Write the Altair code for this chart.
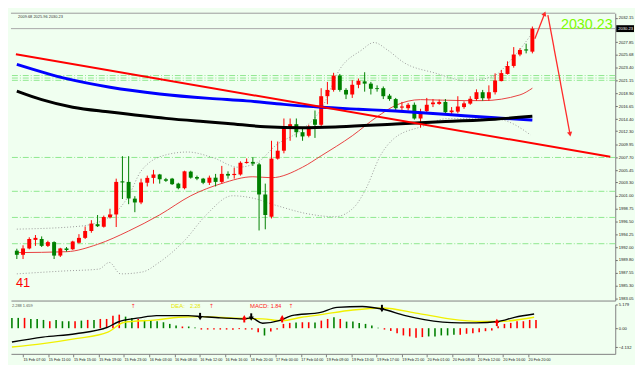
import altair as alt
import pandas as pd

# ---------------- data ----------------
opens = [1991.36,1990.64,1991.75,1993.25,1993.4,1992.2,1992.86,1990.5,1991.75,1991.6,
 1992.75,1993.6,1994.8,1996.0,1995.55,1997.2,1997.7,2003.5,2003.4,2000.47,
 1999.8,2003.25,2004.1,2004.7,2003.86,2003.97,2003.1,2002.3,2005.2,2004.25,
 2003.97,2003.25,2004.14,2003.4,2004.8,2004.6,2004.7,2006.7,2006.9,2006.47,
 2001.2,1997.3,2007.47,2008.86,2012.8,2013.5,2012.1,2011.47,2014.36,2013.4,
 2018.4,2019.5,2022.0,2019.5,2018.7,2020.4,2021.0,2020.6,2019.8,2019.8,
 2018.5,2017.9,2016.4,2016.3,2016.9,2014.5,2015.8,2017.0,2017.05,2017.4,
 2015.6,2015.7,2016.5,2017.1,2017.9,2019.1,2018.0,2019.1,2021.05,2022.3,
 2023.7,2025.7,2026.6,2026.2]
highs = [1991.7,1992.3,1993.7,1994.1,1993.86,1993.1,1993.0,1991.86,1992.0,1993.1,
 1994.25,1995.6,1996.7,1997.6,1997.5,1998.7,2003.97,2007.9,2007.9,2000.9,
 2003.97,2004.5,2005.5,2004.8,2004.1,2004.1,2003.25,2005.36,2005.36,2004.5,
 2004.1,2004.5,2004.8,2006.2,2005.25,2005.9,2007.0,2007.5,2007.7,2006.75,
 2003.1,2010.6,2010.47,2014.5,2014.5,2014.5,2012.86,2013.4,2015.9,2019.8,
 2020.9,2022.5,2022.3,2019.8,2021.2,2021.5,2022.6,2020.9,2020.3,2020.1,
 2018.8,2018.1,2017.4,2017.2,2017.3,2016.2,2018.1,2017.9,2017.8,2017.9,
 2016.5,2018.4,2017.5,2018.4,2019.6,2019.5,2020.3,2022.4,2023.0,2024.5,
 2027.0,2026.8,2027.6,2030.6]
lows = [1989.9,1989.9,1991.6,1992.2,1992.0,1992.0,1989.9,1990.25,1991.2,1991.5,
 1992.6,1993.4,1994.5,1995.5,1995.4,1997.0,1995.5,2000.4,1999.5,1998.1,
 1999.5,2002.6,2003.1,2003.1,2003.4,2002.86,2002.1,2002.1,2003.97,2003.7,
 2003.0,2002.86,2002.6,2003.1,2003.97,2003.97,2004.5,2006.6,2006.2,1994.9,
 1995.1,1997.0,2007.3,2008.4,2010.6,2011.2,2010.6,2011.2,2011.1,2013.1,
 2017.0,2019.2,2019.2,2017.9,2018.1,2019.8,2019.2,2018.7,2019.2,2017.9,
 2017.6,2015.9,2016.0,2015.9,2014.3,2012.9,2015.4,2016.5,2016.9,2015.4,
 2015.1,2015.4,2016.2,2016.9,2017.6,2017.6,2017.6,2018.7,2021.0,2022.2,
 2023.4,2025.4,2025.9,2025.9]
closes = [1990.64,1991.75,1993.4,1993.6,1992.2,1992.86,1990.5,1991.75,1991.47,1992.97,
 1993.6,1994.8,1996.1,1995.64,1997.25,1997.7,2003.4,2003.3,2000.5,1999.8,
 2003.3,2004.1,2004.7,2003.86,2003.6,2003.0,2002.3,2005.25,2004.14,2003.97,
 2003.25,2004.14,2003.4,2004.8,2004.5,2004.8,2006.75,2006.9,2006.6,2001.2,
 1997.6,2007.47,2008.86,2012.8,2013.5,2012.1,2011.36,2013.1,2013.4,2018.4,
 2019.5,2022.0,2019.5,2018.7,2020.4,2021.1,2020.6,2019.7,2019.65,2018.4,
 2017.9,2016.3,2016.6,2016.9,2014.5,2015.6,2016.9,2017.3,2017.4,2015.6,
 2015.9,2016.6,2017.15,2017.95,2019.1,2018.05,2019.1,2021.15,2022.45,2023.7,
 2025.7,2026.5,2026.4,2030.23]

blue_k = [0, 8, 15, 23, 31, 37, 43, 49, 55, 61, 67, 72, 78, 83]
blue_v = [2023.97, 2021.47, 2019.97, 2018.80, 2018.02, 2017.58, 2016.97, 2016.47,
          2016.13, 2015.80, 2015.38, 2014.97, 2014.55, 2014.22]
black_k = [0, 4, 9, 15, 24, 30, 34, 40, 46, 52, 61, 69, 77, 83]
black_v = [2019.3, 2017.8, 2016.47, 2015.63, 2014.52, 2013.97, 2013.63, 2013.05,
           2012.88, 2013.05, 2013.55, 2013.97, 2014.38, 2014.88]
mid_k = [0, 8, 13, 18, 23, 28, 33, 38, 41, 46, 49, 54, 58, 61, 65, 72, 75, 81, 83]
mid_v = [1991.02, 1991.18, 1992.47, 1994.8, 1997.63, 2000.97, 2003.13, 2004.3, 2004.13,
         2005.97, 2007.97, 2011.47, 2014.8, 2016.8, 2017.8, 2017.63, 2017.63, 2018.63, 2019.8]
upper_k = [0, 10, 15, 18, 20, 24, 27.5, 31.6, 35.6, 38.7, 41.7, 46, 49, 52, 55.5, 57.5,
           59.7, 62.3, 67.3, 72.4, 76.5, 80, 83]
upper_v = [1995.13, 1995.63, 1997.3, 2000.97, 2005.3, 2008.13, 2008.63, 2007.63, 2005.97,
           2006.8, 2009.8, 2012.63, 2016.13, 2023.13, 2026.47, 2027.8, 2026.47, 2024.3,
           2022.47, 2021.13, 2021.8, 2025.3, 2029.47]
lower_k = [0, 7.5, 13.2, 14.9, 16.7, 20.2, 22.9, 27, 30.5, 34.7, 37.7, 41.7, 46.9, 51.2,
           54.3, 56.1, 58.6, 60.7, 65.3, 69.3, 77.6, 82.7]
lower_v = [1987.3, 1987.8, 1988.13, 1989.3, 1987.3, 1987.63, 1989.3, 1993.13, 1997.63,
           2000.97, 2000.63, 1999.3, 1997.8, 1997.3, 1998.97, 2001.97, 2008.13, 2010.97,
           2013.13, 2014.47, 2014.3, 2011.63]
trend_k = [-0.15, 95.55]
trend_v = [2025.75, 2007.8]
arrow_up_k = [83.4, 84.97]
arrow_up_v = [2028.47, 2032.85]
arrow_dn_k = [85.5, 89.06]
arrow_dn_v = [2032.58, 2011.75]
levels = [2022.02, 2021.58, 2021.18, 2007.68, 2001.75, 1997.18, 1992.58]

price_ticks = [2032.15, 2027.85, 2025.68, 2023.40, 2021.15, 2018.90, 2016.65, 2014.40,
               2012.30, 2009.95, 2007.70, 2005.45, 2003.30, 2001.00, 1998.75, 1996.50,
               1994.25, 1992.00, 1989.80, 1987.55, 1985.30, 1983.05]
time_labels = ["15 Feb 07:00", "15 Feb 11:00", "15 Feb 15:00", "15 Feb 19:00", "15 Feb 23:00",
               "16 Feb 03:00", "16 Feb 08:00", "16 Feb 12:00", "16 Feb 16:00", "16 Feb 20:00",
               "17 Feb 00:00", "17 Feb 04:00", "19 Feb 09:00", "19 Feb 13:00", "19 Feb 17:00",
               "19 Feb 21:00", "20 Feb 01:00", "20 Feb 08:00", "20 Feb 12:00", "20 Feb 16:00",
               "20 Feb 20:00"]

hist = [2.25,2.25,2.25,2.02,2.02,1.81,1.52,1.81,1.52,1.52,
        1.52,1.66,1.81,1.81,2.02,2.02,2.74,2.96,2.53,2.25,
        2.02,1.81,1.81,1.52,1.30,0.94,0.58,0.37,0.37,0.15,
        -0.3,-0.3,-0.3,-0.3,-0.3,-0.35,-0.2,-0.3,-0.3,-0.9,
        -1.6,-0.7,-0.3,0.94,1.16,1.23,1.30,1.30,1.23,1.66,
        2.02,2.38,2.02,1.44,1.44,1.16,0.94,0.58,0.1,-0.3,
        -0.6,-1.08,-1.58,-1.80,-2.09,-1.94,-1.8,-1.8,-1.58,-1.58,
        -1.44,-1.44,-1.22,-1.08,-0.86,-0.65,-0.5,0.4,0.94,1.16,
        1.52,1.52,1.81,1.81]
hist_col = list("ddrdddrddd" "rdrdrrrrdd" "rddddddrdd" "gggggggggg" "Gggrrdrrdr"
                "rdrddddddg" "ggggggGGGG" "Gggggggrrr" "rrrr")
macd_k = [0, 4.9, 10.1, 15.2, 16.7, 20.2, 22.9, 27.9, 30.1, 33.1, 36.7, 37.9, 39.7, 42.3,
          44.3, 48.9, 51.5, 55.5, 58.6, 62.3, 65.3, 70.9, 73.5, 77, 79.6, 82.7]
macd_v = [-3.02, -1.94, -1.21, 0.22, 1.30, 2.25, 2.74, 2.74, 2.53, 2.25, 2.03, 2.25, 1.08,
          1.66, 2.74, 3.46, 4.54, 4.75, 4.19, 2.74, 1.88, 1.17, 1.17, 1.45, 2.38, 3.11]
sig_k = [0, 4.9, 10.1, 15.2, 17.8, 22.9, 26.4, 30.1, 35.6, 39.7, 42.8, 45.9, 48.9, 54,
         58.6, 64.3, 69.3, 74.5, 77, 82.7]
sig_v = [-4.10, -3.37, -2.29, -0.86, 1.30, 1.81, 2.38, 2.53, 2.16, 2.03, 1.66, 2.38, 2.96,
         3.97, 4.41, 3.24, 2.03, 1.45, 1.45, 2.38]
cross_dn_k = [29.8, 37.9, 58.6]
cross_dn_v = [2.6, 2.5, 4.36]
cross_up_k = [36.8, 42.8, 76.8]
cross_up_v = [2.0, 2.0, 1.2]
small_up_k = [19.2, 31.6, 44.2]

assert len(opens) == len(highs) == len(lows) == len(closes) == len(hist) == len(hist_col)

# ---------------- layout / scales ----------------
W, H1, H2 = 612, 291, 50
FONT = "Liberation Sans"
xs = alt.Scale(domain=[-0.15, 95.55], nice=False, zero=False)
ys = alt.Scale(domain=[1982.63, 2032.93], nice=False, zero=False)
ms = alt.Scale(domain=[-5.61, 5.179], nice=False, zero=False)

xax_main = alt.Axis(labels=False, ticks=False, domain=True, domainColor="#808080",
                    title=None, grid=False)
yax = alt.Axis(orient="right", values=price_ticks, format=".2f", labelFontSize=4.2,
               labelColor="#222222", tickSize=2, tickColor="#666666", domainColor="#808080",
               labelPadding=1, title=None, grid=False, labelFont=FONT)


def X(f):
    return alt.X(f, type="quantitative", scale=xs, axis=xax_main)


def Y(f):
    return alt.Y(f, type="quantitative", scale=ys, axis=yax)


def line(kk, vv, **kw):
    return alt.Chart(pd.DataFrame({"k": kk, "p": vv})).mark_line(**kw).encode(
        x=X("k"), y=Y("p"))


cdf = pd.DataFrame({"k": range(len(opens)), "o": opens, "h": highs, "l": lows, "c": closes})
cdf["d"] = ["up" if c >= o else "dn" for o, c in zip(cdf.o, cdf.c)]
cdf["bt"] = cdf[["o", "c"]].min(axis=1)
cdf["tp"] = cdf[["o", "c"]].max(axis=1)
ccol = alt.Color("d:N", scale=alt.Scale(domain=["up", "dn"], range=["#ff0000", "#008000"]),
                 legend=None)

last = closes[-1]
top = ys.domain[1]

lev = alt.Chart(pd.DataFrame({"p": levels})).mark_rule(
    color="#8ee88e", strokeWidth=1, strokeDash=[6, 2, 1, 2]).encode(y=Y("p"))
pline = alt.Chart(pd.DataFrame({"p": [last]})).mark_rule(color="#a8a8a8", strokeWidth=1).encode(y=Y("p"))
tline = alt.Chart(pd.DataFrame({"p": [top]})).mark_rule(color="#9a9a9a", strokeWidth=1).encode(y=Y("p"))

bb_up = line(upper_k, upper_v, color="#9a9a9a", strokeWidth=1, strokeDash=[1, 2], interpolate="monotone")
bb_lo = line(lower_k, lower_v, color="#9a9a9a", strokeWidth=1, strokeDash=[1, 2], interpolate="monotone")
mid = line(mid_k, mid_v, color="#e84040", strokeWidth=1, interpolate="monotone")

wick = alt.Chart(cdf).mark_rule(strokeWidth=1).encode(x=X("k"), y=Y("l"), y2="h", color=ccol)
body = alt.Chart(cdf).mark_bar(size=4).encode(x=X("k"), y=Y("bt"), y2="tp", color=ccol)

blue = line(blue_k, blue_v, color="#0000ff", strokeWidth=3, interpolate="monotone")
black = line(black_k, black_v, color="#000000", strokeWidth=3, interpolate="monotone")
trend = line(trend_k, trend_v, color="#ff0000", strokeWidth=2, clip=True)
a_up = line(arrow_up_k, arrow_up_v, color="#ff2a2a", strokeWidth=1.3, clip=True)
a_dn = line(arrow_dn_k, arrow_dn_v, color="#ff2a2a", strokeWidth=1.3, clip=True)
head_up = alt.Chart(pd.DataFrame({"k": [arrow_up_k[1]], "p": [arrow_up_v[1]]})).mark_point(
    shape="triangle-up", filled=True, size=28, color="#ff2a2a", opacity=1, angle=21).encode(
    x=X("k"), y=Y("p"))
head_dn = alt.Chart(pd.DataFrame({"k": [arrow_dn_k[1]], "p": [arrow_dn_v[1]]})).mark_point(
    shape="triangle-up", filled=True, size=28, color="#ff2a2a", opacity=1, angle=169).encode(
    x=X("k"), y=Y("p"))

big = alt.Chart(pd.DataFrame({"k": [87.6], "p": [last], "t": [f"{last:.2f}"]})).mark_text(
    align="left", baseline="alphabetic", fontSize=14.5, color="#7cfc00", font=FONT).encode(
    x=X("k"), y=Y("p"), text="t:N")
t41 = alt.Chart(pd.DataFrame({"k": [-0.15], "p": [1985.63], "t": ["41"]})).mark_text(
    align="left", baseline="middle", fontSize=13, color="#ff0000", font=FONT).encode(
    x=X("k"), y=Y("p"), text="t:N")
title = alt.Chart(pd.DataFrame({"k": [0.2], "p": [2032.2],
                                "t": ["2009.68 2025.96 2030.23"]})).mark_text(
    align="left", baseline="middle", fontSize=4, color="#333333", font=FONT).encode(
    x=X("k"), y=Y("p"), text="t:N")
box = alt.Chart(pd.DataFrame({"a": [last - 0.6], "b": [last + 0.6]})).mark_rect(color="#000000").encode(
    x=alt.value(W + 1), x2=alt.value(W + 19), y=Y("a"), y2="b")
boxt = alt.Chart(pd.DataFrame({"p": [last], "t": [f"{last:.2f}"]})).mark_text(
    align="left", baseline="middle", fontSize=4.2, color="#ffffff", font=FONT).encode(
    x=alt.value(W + 3), y=Y("p"), text="t:N")

main = alt.layer(lev, pline, tline, bb_up, bb_lo, mid, wick, body, blue, black, trend,
                 a_up, a_dn, head_up, head_dn, big, t41, title, box, boxt).properties(
    width=W, height=H1)

# ---------------- MACD panel ----------------
tick_k = [1.75 + 4 * i for i in range(len(time_labels))]
lab_js = "[" + ",".join("'" + s + "'" for s in time_labels) + "]"
xax_m = alt.Axis(values=tick_k, labelExpr=lab_js + "[round((datum.value-1.75)/4)]",
                 labelAlign="left", labelFontSize=3.8, labelColor="#222222", tickSize=3,
                 tickColor="#808080", domainColor="#808080", labelPadding=1, labelOverlap=False,
                 labelFlush=False, title=None, grid=False, labelFont=FONT)
yax_m = alt.Axis(orient="right", values=[5.179, 0, -4.132],
                 labelExpr="datum.value == 0 ? '0.00' : format(datum.value, '.3f')",
                 labelFontSize=4.2, labelColor="#222222", tickSize=2, tickColor="#666666",
                 domainColor="#808080", labelPadding=1, title=None, grid=False, labelFont=FONT)


def MX(f):
    return alt.X(f, type="quantitative", scale=xs, axis=xax_m)


def MY(f):
    return alt.Y(f, type="quantitative", scale=ms, axis=yax_m)


hdf = pd.DataFrame({"k": range(len(hist)), "v": hist, "z": 0.0, "c": hist_col})
bars = alt.Chart(hdf).mark_rule(strokeWidth=1.6).encode(
    x=MX("k"), y=MY("z"), y2="v",
    color=alt.Color("c:N", scale=alt.Scale(domain=["r", "d", "g", "G"],
                                           range=["#ff0000", "#b02828", "#33e633", "#1f8f1f"]),
                    legend=None))
mline = alt.Chart(pd.DataFrame({"k": macd_k, "v": macd_v})).mark_line(
    color="#000000", strokeWidth=1.4, interpolate="monotone").encode(x=MX("k"), y=MY("v"))
sline = alt.Chart(pd.DataFrame({"k": sig_k, "v": sig_v})).mark_line(
    color="#f0f000", strokeWidth=1.4, interpolate="monotone").encode(x=MX("k"), y=MY("v"))

# crossing arrows: shaft (rule) + head (triangle)
dn_df = pd.DataFrame({"k": cross_dn_k, "v": cross_dn_v})
dn_df["a"] = dn_df.v + 0.75
dn_df["b"] = dn_df.v - 0.15
dn_df["h"] = dn_df.v - 0.4
up_df = pd.DataFrame({"k": cross_up_k, "v": cross_up_v})
up_df["a"] = up_df.v - 0.75
up_df["b"] = up_df.v + 0.15
up_df["h"] = up_df.v + 0.4
dn_shaft = alt.Chart(dn_df).mark_rule(color="#000000", strokeWidth=2).encode(
    x=MX("k"), y=MY("a"), y2="b")
dn_head = alt.Chart(dn_df).mark_point(shape="triangle-down", filled=True, size=26,
                                      color="#000000", opacity=1).encode(x=MX("k"), y=MY("h"))
up_shaft = alt.Chart(up_df).mark_rule(color="#ff0000", strokeWidth=2).encode(
    x=MX("k"), y=MY("a"), y2="b")
up_head = alt.Chart(up_df).mark_point(shape="triangle-up", filled=True, size=26,
                                      color="#ff0000", opacity=1).encode(x=MX("k"), y=MY("h"))

sm_ar = alt.Chart(pd.DataFrame({"k": small_up_k, "v": [4.8] * 3})).mark_text(
    text="↑", fontSize=6, color="#ff4040", font="DejaVu Sans").encode(x=MX("k"), y=MY("v"))
mtxt = alt.Chart(pd.DataFrame({
    "k": [0.0, 25.2, 28.2, 37.7, 41.0],
    "v": [4.8, 4.8, 4.8, 4.8, 4.8],
    "t": ["2.288 1.659", "DEA:", "2.28", "MACD:", "1.84"],
    "c": ["#555555", "#e6e600", "#e6e600", "#ff2020", "#ff2020"],
    "s": [4.0, 6.0, 5.5, 6.0, 5.5],
})).mark_text(align="left", baseline="middle", font=FONT).encode(
    x=MX("k"), y=MY("v"), text="t:N", color=alt.Color("c:N", scale=None),
    size=alt.Size("s:Q", scale=None))

macd = alt.layer(bars, sline, mline, dn_shaft, dn_head, up_shaft, up_head, sm_ar, mtxt).properties(
    width=W, height=H2)

chart = alt.vconcat(main, macd, spacing=0).properties(
    padding=0, background="#f0fff0").configure_view(stroke="transparent")

chart.save("out.html", embed_options={"renderer": "svg", "actions": False})
